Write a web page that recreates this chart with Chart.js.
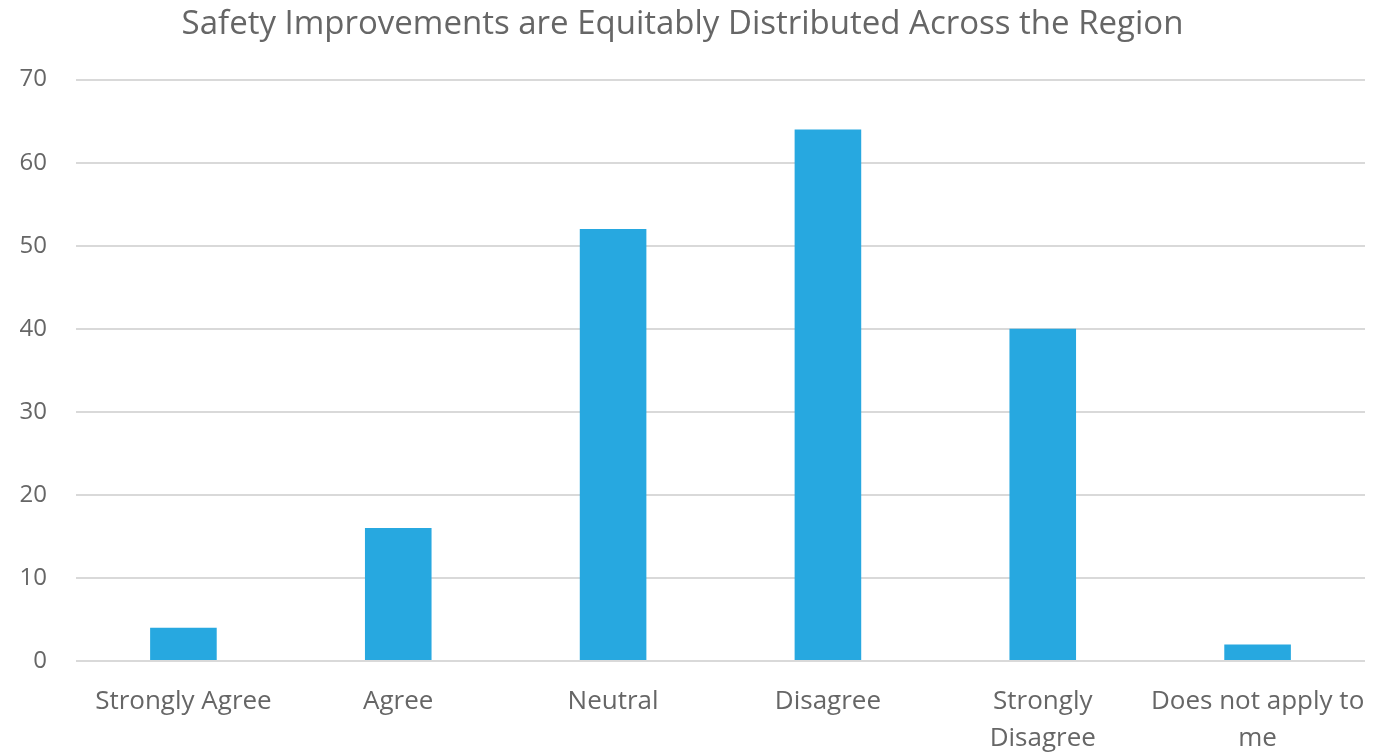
<!DOCTYPE html>
<html>
<head>
<meta charset="utf-8">
<script src="https://cdn.jsdelivr.net/npm/chart.js@4"></script>
<style>
  html, body { margin: 0; padding: 0; background: #fff; }
  #wrap { width: 1374px; height: 752px; }
</style>
</head>
<body>
<div id="wrap"><canvas id="chart" width="1374" height="752"></canvas></div>
<script>
const categories = ["Strongly Agree", "Agree", "Neutral", "Disagree", ["Strongly", "Disagree"], ["Does not apply to", "me"]];
const counts = [4, 16, 52, 64, 40, 2];
const yTicks = [0, 10, 20, 30, 40, 50, 60, 70];

const textColor = '#666666';
const fontFamily = "'Source Sans Pro', 'Open Sans', sans-serif";

new Chart(document.getElementById('chart').getContext('2d'), {
    type: 'bar',
    data: {
        labels: categories,
        datasets: [{
            data: counts,
            backgroundColor: '#27A8E0',
            categoryPercentage: 1,
            barPercentage: 0.31
        }]
    },
    options: {
        responsive: false,
        animation: false,
        layout: { padding: { left: 0, right: 9, top: 0, bottom: 0 } },
        plugins: {
            legend: { display: false },
            tooltip: { enabled: false },
            title: {
                display: true,
                text: 'Safety Improvements are Equitably Distributed Across the Region',
                color: textColor,
                font: { family: fontFamily, size: 33, weight: 'normal', lineHeight: 1.2 },
                padding: { top: 5, bottom: 35 }
            }
        },
        scales: {
            x: {
                grid: { display: false },
                border: { display: false },
                ticks: {
                    color: textColor,
                    font: { family: fontFamily, size: 26, lineHeight: 1.42 },
                    maxRotation: 0, minRotation: 0, autoSkip: false, padding: 14
                },
                afterFit: (s) => { s.height = 91; s.paddingLeft = 0; s.paddingRight = 0; }
            },
            y: {
                min: 0, max: 70,
                afterBuildTicks: (s) => { s.ticks = yTicks.map(v => ({ value: v })); },
                grid: { color: '#d9d9d9', lineWidth: 2, drawTicks: false },
                border: { display: false },
                ticks: {
                    color: textColor,
                    font: { family: fontFamily, size: 24 },
                    padding: 29
                },
                afterFit: (s) => { s.width = 76; }
            }
        }
    }
});
</script>
</body>
</html>
